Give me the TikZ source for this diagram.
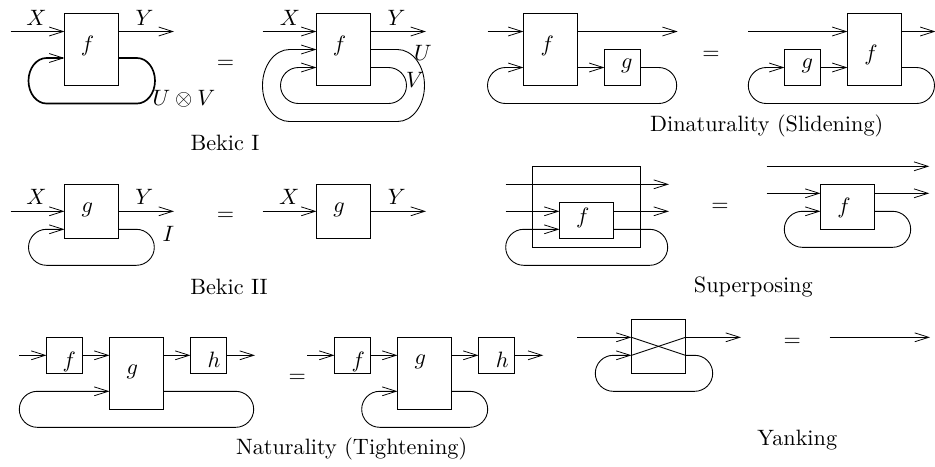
\documentclass[tikz,border=0pt]{standalone}
\usetikzlibrary{arrows.meta}
\tikzset{
  wire/.style={line width=0.4pt,-{Straight Barb[length=6.3pt,width=4pt,line width=0.35pt]}},
  plainwire/.style={line width=0.4pt},
  heavy/.style={line width=0.75pt},
  boxn/.style={draw,line width=0.45pt,inner sep=0pt,outer sep=0pt},
  lab/.style={inner sep=0pt,outer sep=0pt,anchor=center},
}
% box: name, x1, y1, x2, y2 (reference pixels)
\newcommand{\bx}[5]{%
  \pgfmathsetlengthmacro{\bxw}{(#4-#2)*0.45pt}%
  \pgfmathsetlengthmacro{\bxh}{(#5-#3)*0.45pt}%
  \node[boxn,minimum width=\bxw,minimum height=\bxh] (#1) at ({(#2+#4)/2},{(#3+#5)/2}) {};}
% straight wire from a named free end into a box
\newcommand{\wirein}[3]{\coordinate (#1) at (#2); \draw[wire] (#1) -- (#1 -| #3.west);}
% feedback loop with semi-elliptic ends: [style] src, dst, y, right, bottom, left, rx
\newcommand{\fb}[8][]{%
  \pgfmathsetmacro{\ry}{(#6-#4)/2}%
  \pgfmathsetmacro{\mm}{(#6+#4)/2}%
  \pgfmathsetmacro{\kx}{0.5523*#8}%
  \pgfmathsetmacro{\ky}{0.5523*\ry}%
  \pgfmathsetmacro{\ra}{#5-#8}%
  \pgfmathsetmacro{\rb}{\ra+\kx}%
  \pgfmathsetmacro{\la}{#7+#8}%
  \pgfmathsetmacro{\lb}{\la-\kx}%
  \pgfmathsetmacro{\ma}{\mm-\ky}%
  \pgfmathsetmacro{\mb}{\mm+\ky}%
  \coordinate (fbt) at (\ra,#4);%
  \coordinate (fbd) at (\la,#4);%
  \draw[wire,#1] (#2.east |- fbt) -- (fbt)
    .. controls (\rb,#4) and (#5,\ma) .. (#5,\mm)
    .. controls (#5,\mb) and (\rb,#6) .. (\ra,#6)
    -- (\la,#6)
    .. controls (\lb,#6) and (#7,\mb) .. (#7,\mm)
    .. controls (#7,\ma) and (\lb,#4) .. (fbd)
    -- (fbd -| #3.west);}
\begin{document}
\begin{tikzpicture}[x=0.45pt,y=-0.45pt]
\useasboundingbox (0,0) rectangle (935,466);

% ---- Bekic I left
\bx{af}{64.5}{13.5}{118.5}{85.5}
\node[lab] (afl) at (87.5,46) {$f$};
\wirein{ai}{10.5,31.5}{af}
\coordinate (ao) at (174,31.5); \draw[wire] (af.east |- ao) -- (ao);
\fb[heavy]{af}{af}{58}{155}{103.5}{28.5}{18}
\node[lab] (ax) at (36.5,17.5) {$X$};
\node[lab] (ay) at (144.5,17.5) {$Y$};
\node[lab] (auv) at (184,99) {$U\otimes V$};
\node[lab] (aeq) at (225.5,64.5) {$=$};

% ---- Bekic I right
\bx{bf}{316.5}{13.5}{370.5}{85.5}
\node[lab] (bfl) at (339.5,46) {$f$};
\wirein{bi}{262.5,31.5}{bf}
\coordinate (bo) at (426,31.5); \draw[wire] (bf.east |- bo) -- (bo);
\fb{bf}{bf}{49.5}{424.5}{121.5}{262.5}{27}
\fb{bf}{bf}{67.5}{406.5}{103.5}{280.5}{18}
\node[lab] (bx) at (290,17.5) {$X$};
\node[lab] (by) at (396.5,17.5) {$Y$};
\node[lab] (bu) at (423,53) {$U$};
\node[lab] (bv) at (415,80) {$V$};
\node[lab] (bt) at (225,143) {Bekic I};

% ---- Dinaturality left
\bx{cf}{523.5}{13.5}{577.5}{85.5}
\bx{cg}{604.5}{49.5}{640.5}{85.5}
\node[lab] (cfl) at (547.3,46) {$f$};
\node[lab] (cgl) at (626.7,66) {$g$};
\wirein{ci}{487.5,31.5}{cf}
\coordinate (co) at (677.7,31.5); \draw[wire] (cf.east |- co) -- (co);
\coordinate (cm) at (590,67.5); \draw[wire] (cf.east |- cm) -- (cm -| cg.west);
\fb{cg}{cf}{67.5}{676.7}{103.5}{487.5}{18}
\node[lab] (ceq) at (711,55.5) {$=$};

% ---- Dinaturality right
\bx{df}{847.5}{13.5}{901.5}{85.5}
\bx{dg}{784.5}{49.5}{820.5}{85.5}
\node[lab] (dfl) at (871,55) {$f$};
\node[lab] (dgl) at (807.3,66) {$g$};
\wirein{di}{748.3,31.5}{df}
\coordinate (do) at (935.5,31.5); \draw[wire] (df.east |- do) -- (do);
\coordinate (dm) at (835,67.5); \draw[wire] (dg.east |- dm) -- (dm -| df.west);
\fb{df}{dg}{67.5}{934.5}{103.5}{748.3}{18}
\node[lab] (dt) at (766.7,126) {Dinaturality (Slidening)};

% ---- Bekic II
\bx{ef}{64.5}{184.5}{118.5}{238.5}
\node[lab] (efl) at (87.3,210) {$g$};
\wirein{ei}{10.5,211.3}{ef}
\coordinate (eo) at (174,211.3); \draw[wire] (ef.east |- eo) -- (eo);
\fb{ef}{ef}{229.3}{154.3}{265.3}{28.5}{18}
\node[lab] (ex) at (36.5,197.3) {$X$};
\node[lab] (ey) at (144.3,197.3) {$Y$};
\node[lab] (ei2) at (168.3,234) {$I$};
\node[lab] (eeq) at (225.5,216.5) {$=$};
\bx{ff}{316.5}{184.5}{370.5}{238.5}
\node[lab] (ffl) at (339,210) {$g$};
\wirein{fi}{262.5,211.3}{ff}
\coordinate (fo) at (426,211.3); \draw[wire] (ff.east |- fo) -- (fo);
\node[lab] (fx) at (289.3,197.3) {$X$};
\node[lab] (fy) at (396.7,197.3) {$Y$};
\node[lab] (ft) at (229,287.3) {Bekic II};

% ---- Superposing left
\bx{gb}{532.5}{166.3}{640.5}{247.3}
\bx{gf}{559.5}{202.3}{613.5}{238.3}
\node[lab] (gfl) at (582.7,218.3) {$f$};
\coordinate (gts) at (505.7,184.3); \coordinate (gte) at (669,184.3);
\draw[wire] (gts) -- (gte);
\wirein{gi}{505.7,211.3}{gf}
\coordinate (go) at (669,211.3); \draw[wire] (gf.east |- go) -- (go);
\fb{gf}{gf}{229.3}{667.7}{265.3}{505.7}{18}
\node[lab] (geq) at (720,207.2) {$=$};

% ---- Superposing right
\coordinate (hts) at (766.7,166.3); \coordinate (hte) at (929.3,166.3);
\draw[wire] (hts) -- (hte);
\bx{hf}{820.5}{184.3}{874.5}{229.3}
\node[lab] (hfl) at (844,207.7) {$f$};
\wirein{hi}{766.7,193.3}{hf}
\coordinate (ho) at (929.3,193.3); \draw[wire] (hf.east |- ho) -- (ho);
\fb{hf}{hf}{211.3}{910.7}{247.3}{784.3}{18}
\node[lab] (ht) at (753.3,287.3) {Superposing};

% ---- Naturality left
\bx{if}{46.5}{337.3}{82.5}{373.3}
\bx{ig}{109.5}{337.3}{163.5}{409.3}
\bx{ih}{190.5}{337.3}{226.5}{373.3}
\node[lab] (ifl) at (69.3,362.3) {$f$};
\node[lab] (igl) at (132.3,371.7) {$g$};
\node[lab] (ihl) at (214,360) {$h$};
\wirein{ii}{19.3,355.3}{if}
\draw[wire] (if.east |- ii) -- (ii -| ig.west);
\draw[wire] (ig.east |- ii) -- (ii -| ih.west);
\coordinate (io) at (255,355.3); \draw[wire] (ih.east |- io) -- (io);
\fb{ig}{ig}{391.3}{253.7}{427.3}{19.3}{18}
\node[lab] (ieq) at (297.3,378.8) {$=$};

% ---- Naturality right
\bx{jf}{334.5}{337.3}{370.5}{373.3}
\bx{jg}{397.5}{337.3}{451.5}{409.3}
\bx{jh}{478.5}{337.3}{514.5}{373.3}
\node[lab] (jfl) at (358.3,362.3) {$f$};
\node[lab] (jgl) at (420.3,362.3) {$g$};
\node[lab] (jhl) at (502.3,360) {$h$};
\wirein{ji}{307.3,355.3}{jf}
\draw[wire] (jf.east |- ji) -- (ji -| jg.west);
\draw[wire] (jg.east |- ji) -- (ji -| jh.west);
\coordinate (jo) at (543.3,355.3); \draw[wire] (jh.east |- jo) -- (jo);
\fb{jg}{jg}{391.3}{487.7}{427.3}{361.7}{18}
\node[lab] (jt) at (351.7,449.3) {Naturality (Tightening)};

% ---- Yanking
\bx{kb}{631.5}{319.3}{685.5}{373.3}
\wirein{ki}{577.3,337.3}{kb}
\coordinate (ko) at (741,337.3); \draw[wire] (kb.east |- ko) -- (ko);
\coordinate (kl) at (600,355.3);
\draw[plainwire] (kb.west |- ki) -- (kb.east |- kl);
\draw[plainwire] (kb.west |- kl) -- (kb.east |- ki);
\fb{kb}{kb}{355.3}{712.7}{391.3}{595.3}{18}
\node[lab] (keq) at (792.3,342.8) {$=$};
\coordinate (ls) at (829.7,337.3); \coordinate (le) at (930,337.3);
\draw[wire] (ls) -- (le);
\node[lab] (kt) at (797.3,440) {Yanking};
\end{tikzpicture}
\end{document}
